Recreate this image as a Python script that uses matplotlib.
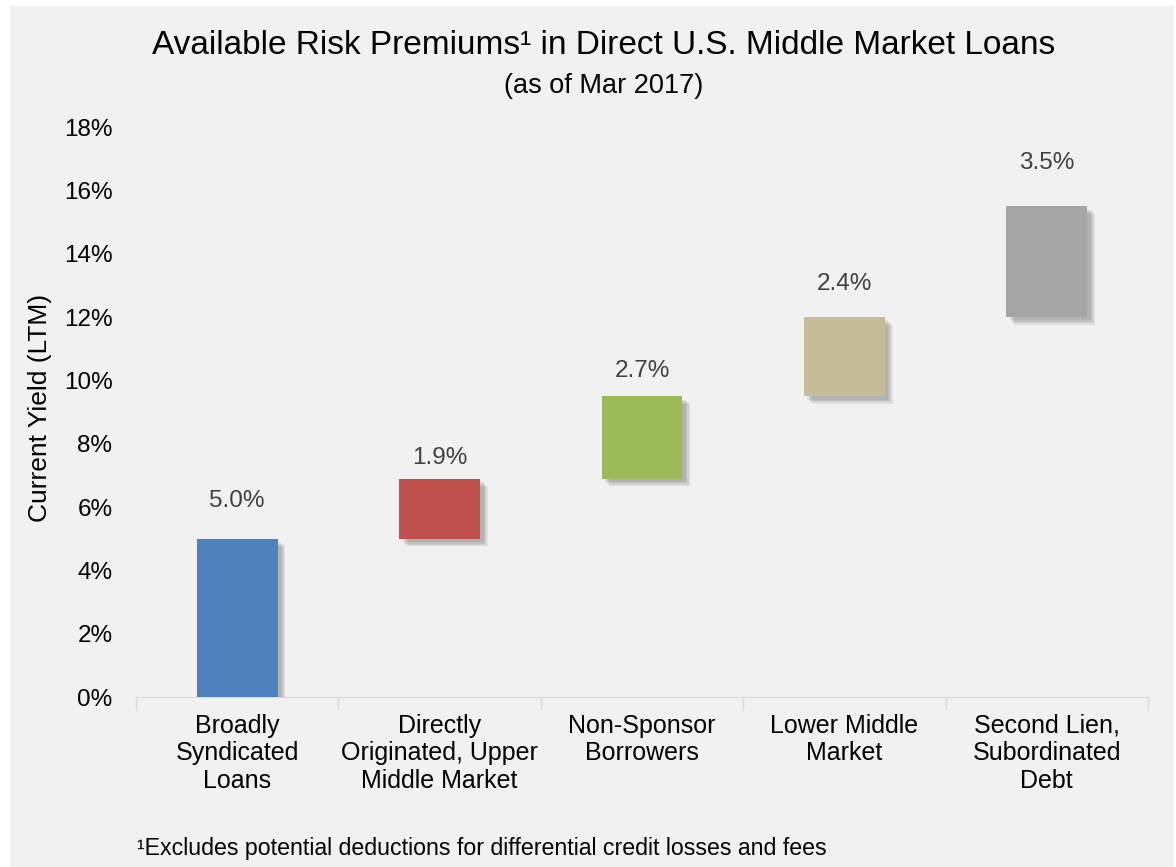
import matplotlib.pyplot as plt
import matplotlib.patheffects as pe
from matplotlib.patches import Rectangle

categories = ["Broadly\nSyndicated\nLoans",
              "Directly\nOriginated, Upper\nMiddle Market",
              "Non-Sponsor\nBorrowers",
              "Lower Middle\nMarket",
              "Second Lien,\nSubordinated\nDebt"]
# yield level at the bottom and top of each step (%)
bottoms = [0.0, 5.0, 6.9, 9.5, 12.0]
tops = [5.0, 6.9, 9.5, 12.0, 15.5]
# premium labels shown above each step (%)
premiums = [5.0, 1.9, 2.7, 2.4, 3.5]
colors = ["#4f81bd", "#c0504d", "#9bbb59", "#c4bd97", "#a5a5a5"]
# label heights (in % units) as placed on the chart
label_y = [6.2, 7.55, 10.3, 13.05, 16.85]

plt.rcParams['font.family'] = ['Liberation Sans', 'DejaVu Sans']

fig = plt.figure(figsize=(11.76, 8.67), dpi=100)
fig.patch.set_facecolor("white")
# gray panel behind everything
fig.patches.append(Rectangle((10 / 1176, 0), 1164 / 1176, 861 / 867,
                             transform=fig.transFigure, facecolor="#f1f1f1",
                             edgecolor="none", zorder=-10))

ax = fig.add_axes([136 / 1176, 170 / 867, 1012 / 1176, 570 / 867])
ax.set_facecolor("none")

x = list(range(len(categories)))
heights = [t - b for b, t in zip(bottoms, tops)]
shadow = [pe.SimplePatchShadow(offset=(o, -o), shadow_rgbFace="#000000", alpha=0.07)
          for o in (5.5, 4.5, 3.5, 2.5)] + [pe.Normal()]
bars = ax.bar(x, heights, bottom=bottoms, width=0.4, color=colors, zorder=3)
for b in bars:
    b.set_path_effects(shadow)

for xi, p, ly in zip(x, premiums, label_y):
    ax.text(xi, ly, "%.1f%%" % p, ha="center", va="center",
            fontsize=17.5, color="#404040")

ax.set_xlim(-0.5, len(categories) - 0.5)
ax.set_ylim(0, 18)
ax.set_yticks(range(0, 19, 2))
ax.set_yticklabels(["%d%%" % v for v in range(0, 19, 2)], fontsize=17.5)
ax.tick_params(axis="y", length=0, pad=17)

ax.set_xticks(x)
ax.set_xticklabels(categories, fontsize=18, linespacing=1.2, va="top")
ax.set_xticks([i - 0.5 for i in range(len(categories) + 1)], minor=True)
ax.tick_params(axis="x", which="major", length=0, pad=12)
ax.tick_params(axis="x", which="minor", length=9, color="#d9d9d9", width=1,
               direction="out")

for s in ["top", "right", "left"]:
    ax.spines[s].set_visible(False)
ax.spines["bottom"].set_color("#d9d9d9")

fig.text(40 / 1176, 1 - 408 / 867, "Current Yield (LTM)", rotation=90,
         ha="center", va="center", fontsize=19)

fig.text(604 / 1176, 1 - 45 / 867,
         "Available Risk Premiums\u00b9 in Direct U.S. Middle Market Loans",
         ha="center", va="center", fontsize=24)
fig.text(604 / 1176, 1 - 86 / 867, "(as of Mar 2017)",
         ha="center", va="center", fontsize=19.5)

fig.text(137 / 1176, 1 - 848 / 867,
         "\u00b9Excludes potential deductions for differential credit losses and fees",
         ha="left", va="center", fontsize=16.7)

fig.savefig("out.png", dpi=100, facecolor=fig.get_facecolor())
